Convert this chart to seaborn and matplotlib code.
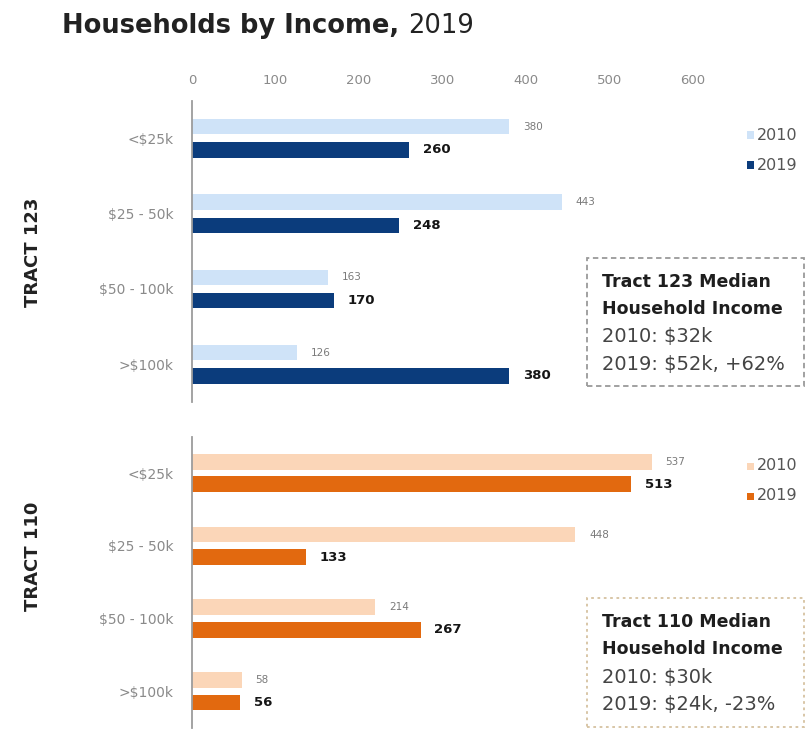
import matplotlib
matplotlib.use("Agg")
import matplotlib.pyplot as plt
import seaborn as sns
import pandas as pd
from matplotlib.patches import Rectangle

# ---- data ----
income_brackets = ["<$25k", "$25 - 50k", "$50 - 100k", ">$100k"]
years = ["2010", "2019"]
tract123_2010 = [380, 443, 163, 126]
tract123_2019 = [260, 248, 170, 380]
tract110_2010 = [537, 448, 214, 58]
tract110_2019 = [513, 133, 267, 56]
x_ticks = [0, 100, 200, 300, 400, 500, 600]

blue_palette = {"2010": "#cfe3f8", "2019": "#0b3c7c"}
orange_palette = {"2010": "#fbd6b8", "2019": "#e2690f"}

sns.set_theme(style="white")
plt.rcParams["font.family"] = ["DejaVu Sans"]

W, H = 807, 743
fig = plt.figure(figsize=(W / 100, H / 100), dpi=100)


def px_box(left, top, right, bottom):
    """Axes rectangle given in pixel coordinates measured from the top-left."""
    return [left / W, 1 - bottom / H, (right - left) / W, (bottom - top) / H]


def fx(x):
    return x / W


def fy(y):
    return 1 - y / H


def tract_frame(v2010, v2019):
    return pd.DataFrame({
        "income": income_brackets * 2,
        "year": ["2010"] * len(v2010) + ["2019"] * len(v2019),
        "households": list(v2010) + list(v2019),
    })


def draw_panel(ax, df, palette, gap):
    sns.barplot(data=df, x="households", y="income", hue="year", orient="h",
                order=income_brackets, hue_order=years, palette=palette,
                saturation=1, width=0.62, gap=gap, linewidth=0,
                legend=False, errorbar=None, ax=ax)
    ax.set_xlim(0, 700)
    ax.set_xlabel("")
    ax.set_ylabel("")
    for side in ["top", "right", "bottom"]:
        ax.spines[side].set_visible(False)
    ax.spines["left"].set_color("#9c9c9c")
    ax.spines["left"].set_linewidth(1.3)
    ax.tick_params(axis="y", length=0, pad=13, labelsize=10, labelcolor="#8a8a8a")
    # value labels: light for 2010, bold for 2019
    ax.bar_label(ax.containers[0], fmt="%d", padding=10, fontsize=7.5, color="#7a7a7a")
    ax.bar_label(ax.containers[1], fmt="%d", padding=10, fontsize=9.5,
                 fontweight="bold", color="#151515")


# ---- Tract 123 ----
ax1 = fig.add_axes(px_box(192, 100.6, 192 + 0.835 * 700, 401.9))
draw_panel(ax1, tract_frame(tract123_2010, tract123_2019), blue_palette, 0.35)
ax1.set_xticks(x_ticks)
ax1.set_xticklabels([str(t) for t in x_ticks])
ax1.xaxis.tick_top()
ax1.tick_params(axis="x", length=0, pad=10, labelsize=9.5, labelcolor="#8a8a8a")

# ---- Tract 110 ----
ax2 = fig.add_axes(px_box(192, 436.7, 192 + 0.856 * 700, 727.7))
draw_panel(ax2, tract_frame(tract110_2010, tract110_2019), orange_palette, 0.30)
ax2.set_xticks([])

# ---- title ----
t1 = fig.text(fx(62), fy(33), "Households by Income,", fontsize=18.5,
              fontweight="bold", color="#222222", va="baseline", ha="left")
fig.canvas.draw()
bb = t1.get_window_extent()
fig.text((bb.x1 + 9) / W, fy(33), "2019", fontsize=18.5, color="#222222",
         va="baseline", ha="left")

# ---- tract labels ----
fig.text(fx(33), fy(252), "TRACT 123", rotation=90, ha="center", va="center",
         fontsize=13, fontweight="bold", color="#222222")
fig.text(fx(33), fy(556), "TRACT 110", rotation=90, ha="center", va="center",
         fontsize=13, fontweight="bold", color="#222222")


# ---- legends ----
def legend(y_top, palette):
    for i, yr in enumerate(years):
        yc = y_top + i * 30
        fig.add_artist(Rectangle((fx(746.5), fy(yc + 3.5)), 7 / W, 7 / H,
                                 transform=fig.transFigure,
                                 color=palette[yr], lw=0))
        fig.text(fx(757), fy(yc), yr, fontsize=11.5, color="#555555",
                 va="center", ha="left")


legend(135, blue_palette)
legend(466, orange_palette)


# ---- median income notes ----
def note(top, bottom, lines, edge, style):
    fig.add_artist(Rectangle((fx(587), fy(bottom)), (804 - 587) / W,
                             (bottom - top) / H, transform=fig.transFigure,
                             fill=False, ec=edge, lw=1.3, ls=style))
    for i, (txt, bold) in enumerate(lines):
        fig.text(fx(602), fy(top + 24 + 27.5 * i), txt,
                 fontsize=12.5 if bold else 14,
                 fontweight="bold" if bold else "normal",
                 color="#1e1e1e" if bold else "#444444",
                 va="center", ha="left")


note(258, 386, [("Tract 123 Median", True), ("Household Income", True),
                ("2010: $32k", False), ("2019: $52k, +62%", False)],
     "#9a9a9a", (0, (3, 2)))
note(598, 727, [("Tract 110 Median", True), ("Household Income", True),
                ("2010: $30k", False), ("2019: $24k, -23%", False)],
     "#d6c2a0", (0, (1.5, 2)))

fig.savefig("out.png", dpi=100, facecolor="white")
